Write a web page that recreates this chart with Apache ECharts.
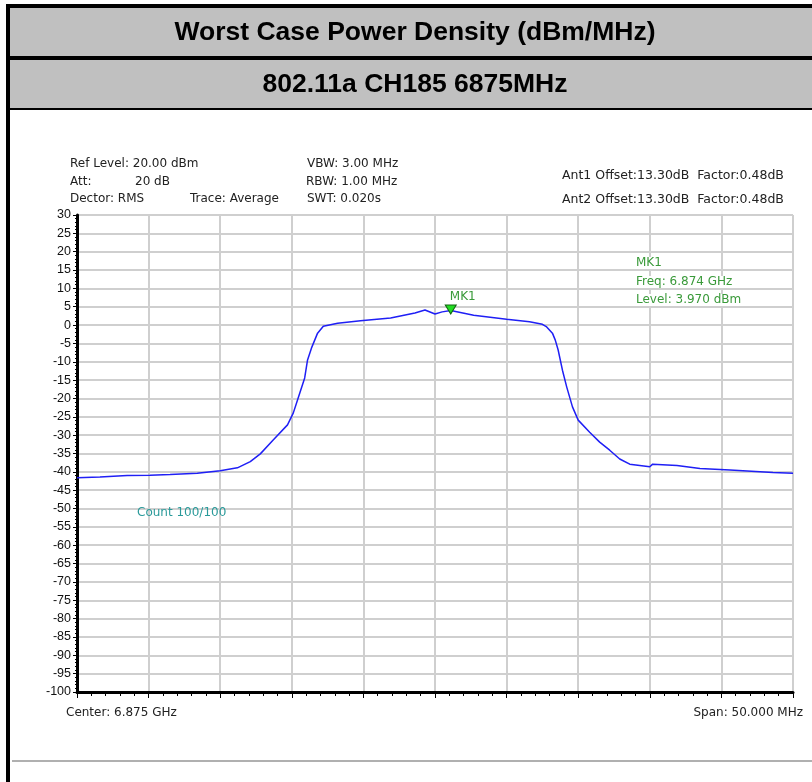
<!DOCTYPE html>
<html>
<head>
<meta charset="utf-8">
<title>Worst Case Power Density</title>
<script src="https://cdn.jsdelivr.net/npm/echarts@6/dist/echarts.min.js"></script>
<style>
  html, body { margin: 0; padding: 0; background: #fff; }
  #chart { width: 812px; height: 782px; }
</style>
</head>
<body>
<div id="chart"></div>
<script>
// trace (frequency in MHz, level in dBm)
const freqMHz = [6850.0, 6851.6, 6853.5, 6855.1, 6856.5, 6858.4, 6860.0, 6861.2, 6862.1, 6862.8,
  6863.7, 6864.7, 6865.1, 6865.4, 6865.9, 6866.1, 6866.4, 6866.8, 6867.2, 6868.2,
  6869.8, 6871.9, 6873.6, 6874.3, 6875.0, 6875.5, 6876.1, 6877.7, 6880.0, 6881.6,
  6882.5, 6882.8, 6883.2, 6883.4, 6883.6, 6883.9, 6884.2, 6884.6, 6885.0, 6885.8,
  6886.5, 6887.2, 6887.9, 6888.6, 6890.0, 6890.2, 6891.9, 6893.5, 6895.6, 6898.6, 6900.0]
const levelDbm = [-41.6, -41.4, -41.0, -40.9, -40.7, -40.4, -39.7, -38.9, -37.2, -35.1,
  -31.3, -27.2, -24.0, -20.4, -14.4, -9.5, -6.0, -2.2, -0.3, 0.5,
  1.2, 1.9, 3.3, 4.1, 3.0, 3.6, 4.0, 2.7, 1.6, 0.9,
  0.2, -0.5, -2.2, -4.1, -6.8, -12.3, -16.9, -22.3, -25.9, -29.2,
  -31.9, -34.1, -36.5, -37.9, -38.6, -37.9, -38.3, -39.1, -39.5, -40.2, -40.4]

const markerFreq = 6876.1
const markerLevel = 3.97

const titleText = 'Worst Case Power Density (dBm/MHz)'
const subTitleText = '802.11a CH185 6875MHz'
const setupLeft = ['Ref Level: 20.00 dBm', 'Att:', 'Dector: RMS']
const setupMid = ['VBW: 3.00 MHz', 'RBW: 1.00 MHz', 'SWT: 0.020s']
const antLines = ['Ant1 Offset:13.30dB  Factor:0.48dB', 'Ant2 Offset:13.30dB  Factor:0.48dB']
const markerLines = ['MK1', 'Freq: 6.874 GHz', 'Level: 3.970 dBm']

let chart = echarts.init(document.getElementById('chart'))

const smallFont = '12px "DejaVu Sans", Tahoma, sans-serif'
const txt = (x, y, text, extra) => ({
  type: 'text', x: x, y: y, z: 10,
  style: Object.assign({ text: text, font: smallFont, fill: '#222', textVerticalAlign: 'middle' }, extra || {})
})
const headFont = 'bold 26.5px "Liberation Sans", Arial, sans-serif'

let option = {
  animation: false,
  grid: {
    left: 77, top: 215, right: 19, bottom: 90,
    show: true, borderColor: '#000', borderWidth: 1
  },
  xAxis: {
    type: 'value',
    min: 6850, max: 6900, interval: 5,
    axisLine: { show: true, onZero: false, lineStyle: { color: '#000', width: 3 } },
    axisTick: { show: true, length: 6, lineStyle: { color: '#000', width: 1 } },
    minorTick: { show: true, splitNumber: 5, length: 4, lineStyle: { color: '#000' } },
    axisLabel: { show: false },
    splitLine: { show: true, lineStyle: { color: '#cfcfcf', width: 2 } }
  },
  yAxis: {
    type: 'value',
    min: -100, max: 30, interval: 5,
    axisLine: { show: true, onZero: false, lineStyle: { color: '#000', width: 3 } },
    axisTick: { show: true, length: 4, lineStyle: { color: '#000' } },
    minorTick: { show: true, splitNumber: 5, length: 2, lineStyle: { color: '#000' } },
    axisLabel: { show: true, margin: 6, color: '#111', fontSize: 12.5, fontFamily: 'Liberation Sans, Arial, sans-serif' },
    splitLine: { show: true, lineStyle: { color: '#cfcfcf', width: 2 } }
  },
  series: [
    {
      type: 'line',
      data: freqMHz.map((f, i) => [f, levelDbm[i]]),
      showSymbol: false,
      lineStyle: { color: '#1f1ff5', width: 1.5 },
      markPoint: {
        symbol: 'triangle',
        symbolRotate: 180,
        symbolSize: [11, 9],
        symbolOffset: [0, -1],
        itemStyle: { color: '#22dd22', borderColor: '#116611', borderWidth: 1 },
        label: {
          show: true, position: 'top', distance: 2, offset: [12, 0],
          formatter: 'MK1', color: '#3a9a3a', fontSize: 12, fontFamily: 'DejaVu Sans, Tahoma, sans-serif'
        },
        data: [{ coord: [markerFreq, markerLevel] }]
      }
    }
  ],
  graphic: [
    // header table
    { type: 'rect', shape: { x: 6, y: 4, width: 806, height: 106 }, style: { fill: '#000' } },
    { type: 'rect', shape: { x: 6, y: 4, width: 4, height: 778 }, style: { fill: '#000' } },
    { type: 'rect', shape: { x: 10, y: 8, width: 802, height: 48 }, style: { fill: '#c0c0c0' } },
    { type: 'rect', shape: { x: 10, y: 60, width: 802, height: 48 }, style: { fill: '#c0c0c0' } },
    { type: 'text', x: 415, y: 33, style: { text: titleText, font: headFont, fill: '#000', textAlign: 'center', textVerticalAlign: 'middle' } },
    { type: 'text', x: 415, y: 85, style: { text: subTitleText, font: headFont, fill: '#000', textAlign: 'center', textVerticalAlign: 'middle' } },
    { type: 'line', shape: { x1: 12, y1: 761, x2: 812, y2: 761 }, style: { stroke: '#b0b0b0', lineWidth: 2 } },
    // instrument settings
    txt(70, 164, setupLeft[0]),
    txt(70, 182, setupLeft[1]),
    txt(135, 182, '20 dB'),
    txt(70, 199, setupLeft[2]),
    txt(190, 199, 'Trace: Average'),
    txt(307, 164, setupMid[0]),
    txt(306, 182, setupMid[1]),
    txt(307, 199, setupMid[2]),
    txt(562, 176, antLines[0], { font: '12.5px "DejaVu Sans", Tahoma, sans-serif' }),
    txt(562, 200, antLines[1], { font: '12.5px "DejaVu Sans", Tahoma, sans-serif' }),
    txt(137, 513, 'Count 100/100', { fill: '#2a9a9a' }),
    txt(636, 263, markerLines[0], { fill: '#3a9a3a', backgroundColor: '#fff' }),
    txt(636, 282, markerLines[1], { fill: '#3a9a3a', backgroundColor: '#fff' }),
    txt(636, 300, markerLines[2], { fill: '#3a9a3a', backgroundColor: '#fff' }),
    txt(66, 713, 'Center: 6.875 GHz'),
    txt(803, 713, 'Span: 50.000 MHz', { textAlign: 'right' })
  ]
}
chart.setOption(option)
</script>
</body>
</html>
